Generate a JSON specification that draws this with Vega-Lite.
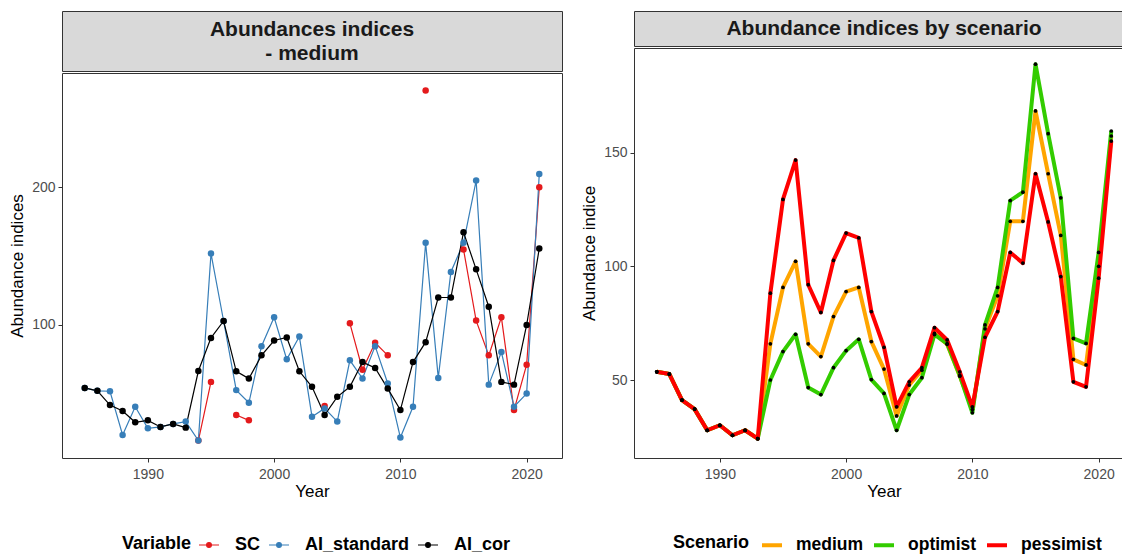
{
  "$schema": "https://vega.github.io/schema/vega-lite/v6.json",
  "background": "white",
  "padding": {"left": 8, "top": 10, "right": 0, "bottom": 0},
  "config": {
    "font": "Liberation Sans",
    "view": {"stroke": "#333333", "strokeWidth": 1},
    "axis": {"grid": false, "domain": false, "tickColor": "#333333", "tickSize": 4, "tickWidth": 1, "labelColor": "#4D4D4D", "labelFontSize": 14, "labelFont": "Liberation Sans", "titleFont": "Liberation Sans", "titleFontSize": 17, "titleFontWeight": "normal", "titleColor": "#000000", "labelPadding": 3, "titlePadding": 5},
    "axisX": {"labelPadding": 5, "titlePadding": 2},
    "legend": {"titleFontSize": 18, "titleFontWeight": "bold", "labelFontSize": 18, "labelFontWeight": "bold", "titleColor": "#000000", "labelColor": "#000000", "titleFont": "Liberation Sans", "labelFont": "Liberation Sans"}
  },
  "datasets": {
    "A": [
      {"Year": 1994, "Variable": "SC", "value": 15.6},
      {"Year": 1995, "Variable": "SC", "value": 58.3},
      {"Year": 1996, "Variable": "SC", "value": null},
      {"Year": 1997, "Variable": "SC", "value": 34.2},
      {"Year": 1998, "Variable": "SC", "value": 30.3},
      {"Year": 1999, "Variable": "SC", "value": null},
      {"Year": 2000, "Variable": "SC", "value": null},
      {"Year": 2001, "Variable": "SC", "value": null},
      {"Year": 2002, "Variable": "SC", "value": null},
      {"Year": 2003, "Variable": "SC", "value": null},
      {"Year": 2004, "Variable": "SC", "value": 40.7},
      {"Year": 2005, "Variable": "SC", "value": null},
      {"Year": 2006, "Variable": "SC", "value": 100.9},
      {"Year": 2007, "Variable": "SC", "value": 67.2},
      {"Year": 2008, "Variable": "SC", "value": 86.7},
      {"Year": 2009, "Variable": "SC", "value": 77.6},
      {"Year": 2010, "Variable": "SC", "value": null},
      {"Year": 2011, "Variable": "SC", "value": null},
      {"Year": 2012, "Variable": "SC", "value": 270.4},
      {"Year": 2013, "Variable": "SC", "value": null},
      {"Year": 2014, "Variable": "SC", "value": null},
      {"Year": 2015, "Variable": "SC", "value": 154.7},
      {"Year": 2016, "Variable": "SC", "value": 102.9},
      {"Year": 2017, "Variable": "SC", "value": 77.6},
      {"Year": 2018, "Variable": "SC", "value": 105.3},
      {"Year": 2019, "Variable": "SC", "value": 37.8},
      {"Year": 2020, "Variable": "SC", "value": 70.8},
      {"Year": 2021, "Variable": "SC", "value": 200},
      {"Year": 1985, "Variable": "AI_standard", "value": 53.9},
      {"Year": 1986, "Variable": "AI_standard", "value": 51.8},
      {"Year": 1987, "Variable": "AI_standard", "value": 51.5},
      {"Year": 1988, "Variable": "AI_standard", "value": 19.7},
      {"Year": 1989, "Variable": "AI_standard", "value": 40.2},
      {"Year": 1990, "Variable": "AI_standard", "value": 24.5},
      {"Year": 1991, "Variable": "AI_standard", "value": 25.5},
      {"Year": 1992, "Variable": "AI_standard", "value": 27.7},
      {"Year": 1993, "Variable": "AI_standard", "value": 29.4},
      {"Year": 1994, "Variable": "AI_standard", "value": 15.6},
      {"Year": 1995, "Variable": "AI_standard", "value": 151.8},
      {"Year": 1996, "Variable": "AI_standard", "value": 102.6},
      {"Year": 1997, "Variable": "AI_standard", "value": 52.3},
      {"Year": 1998, "Variable": "AI_standard", "value": 43.1},
      {"Year": 1999, "Variable": "AI_standard", "value": 84.3},
      {"Year": 2000, "Variable": "AI_standard", "value": 105.3},
      {"Year": 2001, "Variable": "AI_standard", "value": 74.7},
      {"Year": 2002, "Variable": "AI_standard", "value": 91.3},
      {"Year": 2003, "Variable": "AI_standard", "value": 33.0},
      {"Year": 2004, "Variable": "AI_standard", "value": 39.0},
      {"Year": 2005, "Variable": "AI_standard", "value": 29.4},
      {"Year": 2006, "Variable": "AI_standard", "value": 74.0},
      {"Year": 2007, "Variable": "AI_standard", "value": 60.7},
      {"Year": 2008, "Variable": "AI_standard", "value": 84.3},
      {"Year": 2009, "Variable": "AI_standard", "value": 57.1},
      {"Year": 2010, "Variable": "AI_standard", "value": 17.8},
      {"Year": 2011, "Variable": "AI_standard", "value": 40.2},
      {"Year": 2012, "Variable": "AI_standard", "value": 159.5},
      {"Year": 2013, "Variable": "AI_standard", "value": 61.2},
      {"Year": 2014, "Variable": "AI_standard", "value": 138.3},
      {"Year": 2015, "Variable": "AI_standard", "value": 159.5},
      {"Year": 2016, "Variable": "AI_standard", "value": 204.8},
      {"Year": 2017, "Variable": "AI_standard", "value": 56.3},
      {"Year": 2018, "Variable": "AI_standard", "value": 80.0},
      {"Year": 2019, "Variable": "AI_standard", "value": 40.2},
      {"Year": 2020, "Variable": "AI_standard", "value": 49.8},
      {"Year": 2021, "Variable": "AI_standard", "value": 209.6},
      {"Year": 1985, "Variable": "AI_cor", "value": 53.9},
      {"Year": 1986, "Variable": "AI_cor", "value": 51.8},
      {"Year": 1987, "Variable": "AI_cor", "value": 41.4},
      {"Year": 1988, "Variable": "AI_cor", "value": 37.1},
      {"Year": 1989, "Variable": "AI_cor", "value": 28.9},
      {"Year": 1990, "Variable": "AI_cor", "value": 30.3},
      {"Year": 1991, "Variable": "AI_cor", "value": 25.5},
      {"Year": 1992, "Variable": "AI_cor", "value": 27.7},
      {"Year": 1993, "Variable": "AI_cor", "value": 25.0},
      {"Year": 1994, "Variable": "AI_cor", "value": 66.2},
      {"Year": 1995, "Variable": "AI_cor", "value": 90.3},
      {"Year": 1996, "Variable": "AI_cor", "value": 102.6},
      {"Year": 1997, "Variable": "AI_cor", "value": 66.0},
      {"Year": 1998, "Variable": "AI_cor", "value": 60.7},
      {"Year": 1999, "Variable": "AI_cor", "value": 77.6},
      {"Year": 2000, "Variable": "AI_cor", "value": 88.4},
      {"Year": 2001, "Variable": "AI_cor", "value": 90.6},
      {"Year": 2002, "Variable": "AI_cor", "value": 66.0},
      {"Year": 2003, "Variable": "AI_cor", "value": 54.7},
      {"Year": 2004, "Variable": "AI_cor", "value": 34.2},
      {"Year": 2005, "Variable": "AI_cor", "value": 47.4},
      {"Year": 2006, "Variable": "AI_cor", "value": 54.7},
      {"Year": 2007, "Variable": "AI_cor", "value": 72.7},
      {"Year": 2008, "Variable": "AI_cor", "value": 68.4},
      {"Year": 2009, "Variable": "AI_cor", "value": 53.4},
      {"Year": 2010, "Variable": "AI_cor", "value": 37.8},
      {"Year": 2011, "Variable": "AI_cor", "value": 72.7},
      {"Year": 2012, "Variable": "AI_cor", "value": 87.2},
      {"Year": 2013, "Variable": "AI_cor", "value": 119.7},
      {"Year": 2014, "Variable": "AI_cor", "value": 119.7},
      {"Year": 2015, "Variable": "AI_cor", "value": 167.2},
      {"Year": 2016, "Variable": "AI_cor", "value": 140.2},
      {"Year": 2017, "Variable": "AI_cor", "value": 113.0},
      {"Year": 2018, "Variable": "AI_cor", "value": 58.3},
      {"Year": 2019, "Variable": "AI_cor", "value": 56.3},
      {"Year": 2020, "Variable": "AI_cor", "value": 99.7},
      {"Year": 2021, "Variable": "AI_cor", "value": 155.4}
    ],
    "B": [
      {"Year": 1985, "Scenario": "medium", "value": 53.6},
      {"Year": 1986, "Scenario": "medium", "value": 52.6},
      {"Year": 1987, "Scenario": "medium", "value": 41.2},
      {"Year": 1988, "Scenario": "medium", "value": 37.2},
      {"Year": 1989, "Scenario": "medium", "value": 27.9},
      {"Year": 1990, "Scenario": "medium", "value": 30.1},
      {"Year": 1991, "Scenario": "medium", "value": 25.7},
      {"Year": 1992, "Scenario": "medium", "value": 27.9},
      {"Year": 1993, "Scenario": "medium", "value": 24.2},
      {"Year": 1994, "Scenario": "medium", "value": 65.9},
      {"Year": 1995, "Scenario": "medium", "value": 90.7},
      {"Year": 1996, "Scenario": "medium", "value": 102.2},
      {"Year": 1997, "Scenario": "medium", "value": 65.9},
      {"Year": 1998, "Scenario": "medium", "value": 60.3},
      {"Year": 1999, "Scenario": "medium", "value": 77.9},
      {"Year": 2000, "Scenario": "medium", "value": 88.9},
      {"Year": 2001, "Scenario": "medium", "value": 90.7},
      {"Year": 2002, "Scenario": "medium", "value": 66.9},
      {"Year": 2003, "Scenario": "medium", "value": 54.8},
      {"Year": 2004, "Scenario": "medium", "value": 34.2},
      {"Year": 2005, "Scenario": "medium", "value": 47.8},
      {"Year": 2006, "Scenario": "medium", "value": 54.3},
      {"Year": 2007, "Scenario": "medium", "value": 70.5},
      {"Year": 2008, "Scenario": "medium", "value": 65.7},
      {"Year": 2009, "Scenario": "medium", "value": 51.7},
      {"Year": 2010, "Scenario": "medium", "value": 37.0},
      {"Year": 2011, "Scenario": "medium", "value": 72.5},
      {"Year": 2012, "Scenario": "medium", "value": 87.0},
      {"Year": 2013, "Scenario": "medium", "value": 119.8},
      {"Year": 2014, "Scenario": "medium", "value": 119.8},
      {"Year": 2015, "Scenario": "medium", "value": 168.3},
      {"Year": 2016, "Scenario": "medium", "value": 140.7},
      {"Year": 2017, "Scenario": "medium", "value": 113.6},
      {"Year": 2018, "Scenario": "medium", "value": 59.1},
      {"Year": 2019, "Scenario": "medium", "value": 56.6},
      {"Year": 2020, "Scenario": "medium", "value": 100.0},
      {"Year": 2021, "Scenario": "medium", "value": 157.3},
      {"Year": 1985, "Scenario": "optimist", "value": 53.6},
      {"Year": 1986, "Scenario": "optimist", "value": 52.6},
      {"Year": 1987, "Scenario": "optimist", "value": 41.2},
      {"Year": 1988, "Scenario": "optimist", "value": 37.2},
      {"Year": 1989, "Scenario": "optimist", "value": 27.9},
      {"Year": 1990, "Scenario": "optimist", "value": 30.1},
      {"Year": 1991, "Scenario": "optimist", "value": 25.7},
      {"Year": 1992, "Scenario": "optimist", "value": 27.9},
      {"Year": 1993, "Scenario": "optimist", "value": 24.2},
      {"Year": 1994, "Scenario": "optimist", "value": 50.0},
      {"Year": 1995, "Scenario": "optimist", "value": 62.5},
      {"Year": 1996, "Scenario": "optimist", "value": 70.1},
      {"Year": 1997, "Scenario": "optimist", "value": 46.7},
      {"Year": 1998, "Scenario": "optimist", "value": 43.6},
      {"Year": 1999, "Scenario": "optimist", "value": 55.4},
      {"Year": 2000, "Scenario": "optimist", "value": 62.9},
      {"Year": 2001, "Scenario": "optimist", "value": 67.9},
      {"Year": 2002, "Scenario": "optimist", "value": 50.2},
      {"Year": 2003, "Scenario": "optimist", "value": 44.1},
      {"Year": 2004, "Scenario": "optimist", "value": 27.9},
      {"Year": 2005, "Scenario": "optimist", "value": 43.6},
      {"Year": 2006, "Scenario": "optimist", "value": 51.0},
      {"Year": 2007, "Scenario": "optimist", "value": 70.0},
      {"Year": 2008, "Scenario": "optimist", "value": 66.0},
      {"Year": 2009, "Scenario": "optimist", "value": 52.0},
      {"Year": 2010, "Scenario": "optimist", "value": 35.6},
      {"Year": 2011, "Scenario": "optimist", "value": 74.2},
      {"Year": 2012, "Scenario": "optimist", "value": 90.7},
      {"Year": 2013, "Scenario": "optimist", "value": 128.9},
      {"Year": 2014, "Scenario": "optimist", "value": 132.6},
      {"Year": 2015, "Scenario": "optimist", "value": 188.9},
      {"Year": 2016, "Scenario": "optimist", "value": 158.3},
      {"Year": 2017, "Scenario": "optimist", "value": 130.1},
      {"Year": 2018, "Scenario": "optimist", "value": 68.3},
      {"Year": 2019, "Scenario": "optimist", "value": 66.1},
      {"Year": 2020, "Scenario": "optimist", "value": 106.1},
      {"Year": 2021, "Scenario": "optimist", "value": 159.5},
      {"Year": 1985, "Scenario": "pessimist", "value": 53.6},
      {"Year": 1986, "Scenario": "pessimist", "value": 52.6},
      {"Year": 1987, "Scenario": "pessimist", "value": 41.2},
      {"Year": 1988, "Scenario": "pessimist", "value": 37.2},
      {"Year": 1989, "Scenario": "pessimist", "value": 27.9},
      {"Year": 1990, "Scenario": "pessimist", "value": 30.1},
      {"Year": 1991, "Scenario": "pessimist", "value": 25.7},
      {"Year": 1992, "Scenario": "pessimist", "value": 27.9},
      {"Year": 1993, "Scenario": "pessimist", "value": 24.2},
      {"Year": 1994, "Scenario": "pessimist", "value": 88.2},
      {"Year": 1995, "Scenario": "pessimist", "value": 129.4},
      {"Year": 1996, "Scenario": "pessimist", "value": 146.7},
      {"Year": 1997, "Scenario": "pessimist", "value": 91.9},
      {"Year": 1998, "Scenario": "pessimist", "value": 79.7},
      {"Year": 1999, "Scenario": "pessimist", "value": 102.6},
      {"Year": 2000, "Scenario": "pessimist", "value": 114.6},
      {"Year": 2001, "Scenario": "pessimist", "value": 112.5},
      {"Year": 2002, "Scenario": "pessimist", "value": 80.1},
      {"Year": 2003, "Scenario": "pessimist", "value": 64.4},
      {"Year": 2004, "Scenario": "pessimist", "value": 38.2},
      {"Year": 2005, "Scenario": "pessimist", "value": 49.2},
      {"Year": 2006, "Scenario": "pessimist", "value": 55.4},
      {"Year": 2007, "Scenario": "pessimist", "value": 73.0},
      {"Year": 2008, "Scenario": "pessimist", "value": 67.6},
      {"Year": 2009, "Scenario": "pessimist", "value": 53.6},
      {"Year": 2010, "Scenario": "pessimist", "value": 38.2},
      {"Year": 2011, "Scenario": "pessimist", "value": 68.8},
      {"Year": 2012, "Scenario": "pessimist", "value": 80.1},
      {"Year": 2013, "Scenario": "pessimist", "value": 106.1},
      {"Year": 2014, "Scenario": "pessimist", "value": 101.4},
      {"Year": 2015, "Scenario": "pessimist", "value": 140.7},
      {"Year": 2016, "Scenario": "pessimist", "value": 119.5},
      {"Year": 2017, "Scenario": "pessimist", "value": 95.5},
      {"Year": 2018, "Scenario": "pessimist", "value": 49.2},
      {"Year": 2019, "Scenario": "pessimist", "value": 47.0},
      {"Year": 2020, "Scenario": "pessimist", "value": 94.8},
      {"Year": 2021, "Scenario": "pessimist", "value": 155.1}
    ]
  },
  "spacing": 17,
  "resolve": {"scale": {"color": "independent", "x": "independent", "y": "independent"}, "legend": {"color": "independent"}},
  "hconcat": [
    {
      "spacing": 0,
      "vconcat": [
        {
          "width": 500, "height": 60,
          "data": {"values": [{}]},
          "view": {"fill": "#D9D9D9", "stroke": "#333333"},
          "mark": {"type": "text", "fontSize": 21, "fontWeight": "bold", "color": "#1A1A1A", "lineHeight": 24, "baseline": "middle", "align": "center", "dy": -11},
          "encoding": {"text": {"value": ["Abundances indices", "- medium"]}}
        },
        {
          "width": 500, "height": 385,
          "data": {"name": "A"},
          "encoding": {
            "x": {"field": "Year", "type": "quantitative", "scale": {"domain": [1983.2, 2022.8], "nice": false, "zero": false}, "axis": {"values": [1990, 2000, 2010, 2020], "format": "d", "title": "Year"}},
            "y": {"field": "value", "type": "quantitative", "scale": {"domain": [2.9, 283.1], "nice": false, "zero": false}, "axis": {"values": [100, 200], "title": "Abundance indices"}}
          },
          "layer": [
            {
              "mark": {"type": "line", "strokeWidth": 1.2},
              "encoding": {
                "color": {"field": "Variable", "type": "nominal", "scale": {"domain": ["SC", "AI_standard", "AI_cor"], "range": ["#E41A1C", "#377EB8", "#000000"]},
                  "legend": {"title": "Variable", "orient": "none", "legendX": 60, "legendY": 523, "direction": "horizontal", "titleOrient": "left", "symbolType": "M-1,0H1M-0.24,0A0.24,0.24,0,1,0,0.24,0A0.24,0.24,0,1,0,-0.24,0Z", "symbolSize": 400, "symbolStrokeWidth": 1.2, "labelOffset": 15, "columnPadding": 5, "titlePadding": 6}}
              }
            },
            {
              "mark": {"type": "point", "filled": true, "size": 42, "opacity": 1},
              "encoding": {
                "color": {"field": "Variable", "type": "nominal", "scale": {"domain": ["SC", "AI_standard", "AI_cor"], "range": ["#E41A1C", "#377EB8", "#000000"]}}
              }
            },
            {
              "data": {"values": [{}]},
              "mark": {"type": "text", "fontSize": 92, "baseline": "alphabetic", "align": "center", "color": "#000000"},
              "encoding": {
                "x": {"datum": 1992.1, "type": "quantitative"},
                "y": {"datum": 204.8, "type": "quantitative"},
                "text": {"value": "A"}
              }
            }
          ]
        }
      ]
    },
    {
      "spacing": 0,
      "vconcat": [
        {
          "width": 500, "height": 35,
          "data": {"values": [{}]},
          "view": {"fill": "#D9D9D9", "stroke": "#333333"},
          "mark": {"type": "text", "fontSize": 21, "fontWeight": "bold", "color": "#1A1A1A", "baseline": "middle", "align": "center"},
          "encoding": {"text": {"value": "Abundance indices by scenario"}}
        },
        {
          "width": 500, "height": 410,
          "data": {"name": "B"},
          "encoding": {
            "x": {"field": "Year", "type": "quantitative", "scale": {"domain": [1983.2, 2022.8], "nice": false, "zero": false}, "axis": {"values": [1990, 2000, 2010, 2020], "format": "d", "title": "Year"}},
            "y": {"field": "value", "type": "quantitative", "scale": {"domain": [15.7, 196], "nice": false, "zero": false}, "axis": {"values": [50, 100, 150], "title": "Abundance indice"}}
          },
          "layer": [
            {
              "mark": {"type": "line", "strokeWidth": 4, "strokeJoin": "round"},
              "encoding": {
                "color": {"field": "Scenario", "type": "nominal", "scale": {"domain": ["medium", "optimist", "pessimist"], "range": ["#FFA500", "#33CC00", "#FF0000"]},
                  "legend": {"title": "Scenario", "orient": "none", "legendX": 39, "legendY": 522, "direction": "horizontal", "titleOrient": "left", "symbolType": "stroke", "symbolSize": 400, "symbolStrokeWidth": 4, "labelOffset": 12, "columnPadding": 2, "titlePadding": 10, "labelFontSize": 17.5}}
              }
            },
            {
              "mark": {"type": "point", "filled": true, "size": 14, "color": "#000000", "opacity": 1}
            },
            {
              "data": {"values": [{}]},
              "mark": {"type": "text", "fontSize": 92, "baseline": "alphabetic", "align": "center", "color": "#000000"},
              "encoding": {
                "x": {"datum": 1992.3, "type": "quantitative"},
                "y": {"datum": 145.1, "type": "quantitative"},
                "text": {"value": "B"}
              }
            }
          ]
        }
      ]
    }
  ]
}
